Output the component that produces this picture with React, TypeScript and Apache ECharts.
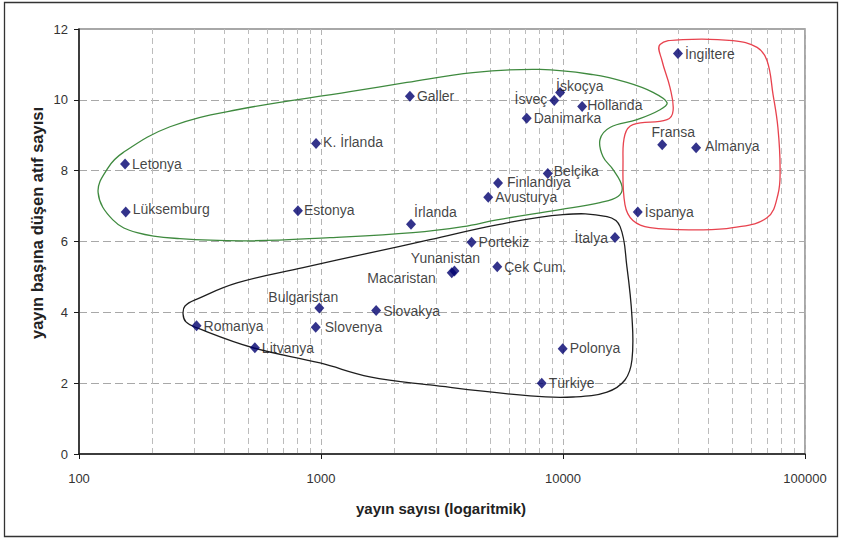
import React, { useEffect, useRef } from "react";
import * as echarts from "echarts";

// ---- data ----
const countries = [
  "Letonya", "Lüksemburg", "K. İrlanda", "Estonya", "Galler", "İsveç", "İskoçya",
  "Hollanda", "Danimarka", "Belçika", "Finlandiya", "Avusturya", "İrlanda", "İtalya",
  "Portekiz", "Yunanistan", "Macaristan", "Çek Cum.", "Slovakya", "Polonya", "Türkiye",
  "Bulgaristan", "Slovenya", "Romanya", "Litvanya", "İngiltere", "Fransa", "Almanya", "İspanya",
];
const publications = [
  155, 156, 954, 803, 2330, 9200, 9730,
  12000, 7080, 8650, 5390, 4910, 2355, 16400,
  4190, 3560, 3470, 5350, 1690, 9970, 8170,
  984, 951, 306, 533, 29850, 25700, 35480, 20370,
];
const citationsPerPaper = [
  8.19, 6.83, 8.77, 6.87, 10.1, 9.98, 10.21,
  9.81, 9.48, 7.92, 7.65, 7.25, 6.49, 6.11,
  5.98, 5.17, 5.12, 5.29, 4.05, 2.97, 2.0,
  4.12, 3.58, 3.62, 3.0, 11.31, 8.73, 8.65, 6.83,
];
const xTickValues = [100, 1000, 10000, 100000];
const minorGridValues = [
  200, 300, 400, 500, 600, 700, 800, 900,
  2000, 3000, 4000, 5000, 6000, 7000, 8000, 9000,
  20000, 30000, 40000, 50000, 60000, 70000, 80000, 90000,
];

// group outlines: [log10(yayın sayısı), atıf sayısı]
const greenOutline: [number, number][] = [
  [2.079, 7.38], [2.12, 8.08], [2.182, 8.51], [2.376, 9.24], [2.653, 9.72], [3.12, 10.23],
  [3.355, 10.49], [3.628, 10.77], [3.905, 10.86], [4.124, 10.71], [4.264, 10.49], [4.372, 10.21],
  [4.43, 9.92], [4.401, 9.72], [4.306, 9.44], [4.194, 9.22], [4.153, 8.88], [4.165, 8.4],
  [4.207, 8.03], [4.244, 7.55], [4.227, 7.27], [4.153, 7.1], [3.988, 6.9], [3.727, 6.61],
  [3.587, 6.42], [3.38, 6.25], [3.037, 6.11], [2.707, 6.02], [2.417, 6.08], [2.24, 6.25], [2.14, 6.61],
];
const redOutline: [number, number][] = [
  [4.401, 11.56], [4.496, 11.7], [4.702, 11.67], [4.802, 11.48], [4.843, 11.11], [4.868, 10.15],
  [4.888, 9.22], [4.897, 8.08], [4.888, 7.32], [4.843, 6.67], [4.702, 6.39], [4.566, 6.33],
  [4.36, 6.39], [4.289, 6.59], [4.256, 7.04], [4.248, 8.28], [4.256, 9.02], [4.289, 9.3],
  [4.43, 9.44], [4.455, 9.7], [4.442, 10.35], [4.409, 11.11],
];
const blackOutline: [number, number][] = [
  [2.438, 4.18], [2.43, 3.95], [2.442, 3.73], [2.488, 3.56], [2.719, 3.0], [2.996, 2.57],
  [3.202, 2.18], [3.45, 1.95], [3.864, 1.64], [4.041, 1.61], [4.182, 1.75], [4.256, 2.09],
  [4.285, 2.66], [4.285, 3.87], [4.264, 5.29], [4.236, 6.42], [4.182, 6.7], [4.0, 6.76],
  [3.727, 6.47], [3.45, 6.05], [3.202, 5.68], [2.926, 5.26], [2.653, 4.83], [2.49, 4.38],
];

// ---- styles / label placement ----
const FONT = "'Liberation Sans', Arial, sans-serif";
const outlineStyles = [
  { points: greenOutline, color: "#3f8a3f" },
  { points: redOutline, color: "#e8424e" },
  { points: blackOutline, color: "#1e1e1e" },
];
const labelPlacement: Record<string, { pos: string; dx: number; dy: number }> = {
  "Lüksemburg": { pos: "right", dx: 0, dy: -3 },
  "K. İrlanda": { pos: "right", dx: 0, dy: -1 },
  "Estonya": { pos: "right", dx: -1, dy: -1 },
  "İsveç": { pos: "left", dx: 0, dy: -2 },
  "İskoçya": { pos: "right", dx: -11, dy: -6 },
  "Hollanda": { pos: "right", dx: -2, dy: -2 },
  "Belçika": { pos: "right", dx: -1, dy: -3 },
  "Finlandiya": { pos: "right", dx: 2, dy: -1 },
  "İrlanda": { pos: "right", dx: -4, dy: -12 },
  "İtalya": { pos: "left", dx: 0, dy: 0 },
  "Yunanistan": { pos: "top", dx: -9, dy: 2 },
  "Macaristan": { pos: "left", dx: -9, dy: 5 },
  "Slovenya": { pos: "right", dx: 2, dy: 0 },
  "Bulgaristan": { pos: "top", dx: -16, dy: 3 },
  "Fransa": { pos: "top", dx: 11, dy: 2 },
  "Almanya": { pos: "right", dx: 2, dy: -2 },
  "İngiltere": { pos: "right", dx: 0, dy: 1 },
  "Polonya": { pos: "right", dx: 0, dy: -1 },
};

export default function App() {
  const ref = useRef<HTMLDivElement>(null);

  useEffect(() => {
    if (!ref.current) return;
    const chart = echarts.init(ref.current, undefined, { renderer: "svg" });

    const scatterData = countries.map((name, i) => {
      const p = labelPlacement[name] || { pos: "right", dx: 0, dy: 0 };
      return {
        name,
        value: [publications[i], citationsPerPaper[i]],
        label: { position: p.pos, offset: [p.dx, p.dy] },
      };
    });

    chart.setOption({
      animation: false,
      backgroundColor: "#ffffff",
      textStyle: { fontFamily: FONT },
      grid: {
        left: 79,
        top: 29,
        right: 36,
        bottom: 90,
        show: true,
        borderColor: "#8a8a8a",
        borderWidth: 1.5,
        backgroundColor: "transparent",
      },
      xAxis: {
        type: "log",
        logBase: 10,
        min: 100,
        max: 100000,
        axisLine: { show: true, lineStyle: { color: "#1a1a1a", width: 1.5 } },
        axisTick: { show: true, inside: false, length: 5, lineStyle: { color: "#1a1a1a" } },
        axisLabel: {
          margin: 18,
          fontSize: 13,
          color: "#333",
          fontFamily: FONT,
          formatter: (v: number) => {
            const r = Math.round(v);
            return xTickValues.includes(r) ? String(r) : "";
          },
        },
        splitLine: { show: true, lineStyle: { color: "#b4b4b4", type: [6, 4], width: 1 } },
      },
      yAxis: {
        type: "value",
        min: 0,
        max: 12,
        interval: 2,
        axisLine: { show: true, lineStyle: { color: "#1a1a1a", width: 1.5 } },
        axisTick: { show: true, inside: false, length: 5, lineStyle: { color: "#1a1a1a" } },
        axisLabel: { margin: 11, fontSize: 13, color: "#333", fontFamily: FONT },
        splitLine: { show: true, lineStyle: { color: "#a8a8a8", type: [8, 4], width: 1 } },
      },
      graphic: [
        {
          type: "rect",
          silent: true,
          shape: { x: 4.5, y: 2.5, width: 833, height: 534 },
          style: { fill: "none", stroke: "#333", lineWidth: 1.3 },
          z: 0,
        },
        {
          type: "text",
          silent: true,
          x: 441,
          y: 508,
          style: {
            text: "yayın sayısı (logaritmik)",
            font: `bold 15px ${FONT}`,
            fill: "#222",
            align: "center",
            verticalAlign: "middle",
          },
        },
        {
          type: "text",
          silent: true,
          x: 37,
          y: 223,
          rotation: Math.PI / 2,
          style: {
            text: "yayın başına düşen atıf sayısı",
            font: `bold 16.5px ${FONT}`,
            fill: "#222",
            align: "center",
            verticalAlign: "middle",
          },
        },
      ],
      series: [
        {
          type: "scatter",
          silent: true,
          data: [],
          z: 0,
          markLine: {
            silent: true,
            z: 0,
            symbol: ["none", "none"],
            label: { show: false },
            lineStyle: { color: "#bcbcbc", type: [6, 4], width: 1 },
            data: minorGridValues.map((v) => ({ xAxis: v })),
          },
        },
        {
          type: "custom",
          silent: true,
          clip: false,
          z: 1,
          data: outlineStyles.map(() => [1000, 6]),
          renderItem: (params: any, api: any) => {
            const o = outlineStyles[params.dataIndex];
            const pts = o.points.map((p) => api.coord([Math.pow(10, p[0]), p[1]]));
            return {
              type: "polygon",
              shape: { points: pts, smooth: 0.4 },
              style: { fill: "none", stroke: o.color, lineWidth: 1.3 },
            };
          },
        },
        {
          type: "scatter",
          z: 3,
          symbol: "diamond",
          symbolSize: [10, 11],
          itemStyle: { color: "#00006e" },
          label: {
            show: true,
            formatter: "{b}",
            distance: 2,
            fontSize: 14,
            color: "#111",
            fontFamily: FONT,
          },
          data: scatterData,
        },
      ],
    });

    return () => chart.dispose();
  }, []);

  return (
    <div
      ref={ref}
      style={{ position: "fixed", left: 0, top: 0, width: 841, height: 544, background: "#fff" }}
    />
  );
}
